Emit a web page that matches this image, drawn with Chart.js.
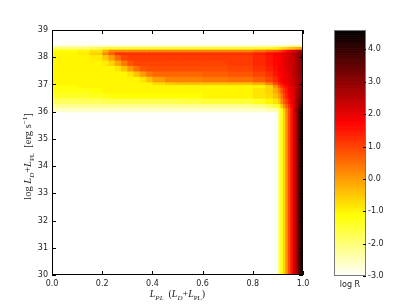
<!DOCTYPE html>
<html>
<head>
<meta charset="utf-8">
<script src="https://cdn.jsdelivr.net/npm/chart.js@4.4.0/dist/chart.umd.min.js"></script>
<style>
  html, body { margin: 0; padding: 0; background: #fff; }
  #wrap { position: relative; width: 407px; height: 307px; }
  #main { position: absolute; left: 0; top: 0; }
  #cbar { position: absolute; left: 320px; top: 0; }
</style>
</head>
<body>
<div id="wrap">
  <canvas id="main" width="407" height="307"></canvas>
  <canvas id="cbar" width="87" height="307"></canvas>
</div>
<script>
// grid cell edges (x = L_PL fraction, y = log luminosity)
const xEdges = [0, 0.1, 0.15, 0.2, 0.225, 0.25, 0.275, 0.3, 0.325, 0.35, 0.375, 0.4, 0.45, 0.5,
                0.6, 0.7, 0.8, 0.85, 0.88, 0.9,
                0.91, 0.92, 0.93, 0.94, 0.95, 0.96, 0.97, 0.98, 0.99, 1.0];
const yEdges = [30, 36.0, 36.15, 36.3, 36.5, 36.7, 36.9, 37.0, 37.1, 37.3, 37.5, 37.7,
                37.9, 38.1, 38.2, 38.3, 38.4, 38.45];

// log R per row (bottom to top), one value per x cell; null = no value (white)
const row_30_00 = [null, null, null, null, null, null, null, null, null, null, null, null, null, null, null, null, null, null, null,
                   -2.0, -1.2, -0.6, 0.2, 0.9, 1.6, 2.2, 2.9, 3.6, 4.3];
const row_36_00 = [-2.6, -2.6, -2.6, -2.6, -2.6, -2.6, -2.6, -2.6, -2.6, -2.6, -2.6, -2.6, -2.6, -2.6, -2.6, -2.6, -2.6, -2.5, -2.4,
                   -2.0, -1.2, -0.5, 0.3, 0.9, 1.6, 2.2, 2.9, 3.6, 4.3];
const row_36_15 = [-2.2, -2.2, -2.2, -2.2, -2.2, -2.2, -2.2, -2.2, -2.2, -2.2, -2.2, -2.2, -2.2, -2.2, -2.2, -2.2, -2.1, -1.8, -1.5,
                   -1.3, -0.5, 0.2, 0.7, 1.2, 1.7, 2.2, 2.7, 3.3, 3.9];
const row_36_30 = [-1.8, -1.8, -1.8, -1.7, -1.7, -1.7, -1.7, -1.7, -1.7, -1.7, -1.7, -1.7, -1.7, -1.6, -1.5, -1.5, -1.3, -1.0, -0.8,
                   -0.5, 0.2, 0.7, 1.1, 1.5, 1.9, 2.3, 2.7, 3.2, 3.7];
const row_36_50 = [-1.4, -1.4, -1.3, -1.2, -1.2, -1.1, -1.1, -1.1, -1.1, -1.1, -1.1, -1.1, -1.1, -1.1, -1.0, -1.0, -0.8, -0.7, -0.4,
                   0.0, 0.5, 1.0, 1.4, 1.7, 2.0, 2.3, 2.6, 3.0, 3.4];
const row_36_70 = [-1.2, -1.2, -1.1, -1.0, -1.0, -1.0, -1.0, -1.0, -1.0, -1.0, -1.0, -1.0, -1.0, -1.0, -1.0, -1.0, -0.8, -0.6, -0.2,
                   0.3, 0.8, 1.2, 1.5, 1.8, 2.0, 2.3, 2.6, 2.9, 3.3];
const row_36_90 = [-1.1, -1.0, -1.0, -1.0, -1.0, -1.0, -1.0, -1.0, -1.0, -1.0, -1.0, -1.0, -1.0, -1.0, -1.0, -1.0, -1.0, -0.6, 0.2,
                   0.8, 1.2, 1.5, 1.7, 1.9, 2.1, 2.3, 2.6, 2.9, 3.2];
const row_37_00 = [-1.0, -1.0, -1.0, -1.0, -1.0, -1.0, -1.0, -1.0, -1.0, -1.0, -1.0, -0.7, -0.5, -0.4, -0.4, -0.4, -0.2, 0.3, 0.9,
                   1.3, 1.6, 1.8, 1.9, 2.0, 2.2, 2.4, 2.6, 2.8, 3.0];
const row_37_10 = [-1.0, -1.0, -1.0, -1.0, -1.0, -1.0, -1.0, -1.0, -1.0, -0.8, -0.4, 0.0, 0.3, 0.3, 0.4, 0.5, 0.7, 1.0, 1.3,
                   1.6, 1.8, 1.9, 2.0, 2.1, 2.2, 2.4, 2.6, 2.8, 3.0];
const row_37_30 = [-1.0, -1.0, -1.0, -1.0, -1.0, -1.0, -1.0, -0.8, -0.4, 0.0, 0.4, 0.6, 0.6, 0.6, 0.7, 0.8, 1.0, 1.2, 1.5,
                   1.7, 1.8, 1.9, 2.0, 2.1, 2.3, 2.5, 2.7, 2.9, 3.1];
const row_37_50 = [-1.0, -1.0, -1.0, -1.0, -1.0, -0.8, -0.4, 0.1, 0.5, 0.8, 0.9, 0.9, 0.9, 0.9, 0.9, 1.0, 1.2, 1.4, 1.6,
                   1.8, 1.9, 2.0, 2.1, 2.2, 2.3, 2.5, 2.7, 2.9, 3.1];
const row_37_70 = [-1.0, -1.0, -1.0, -0.9, -0.6, -0.1, 0.4, 0.8, 1.0, 1.0, 1.0, 1.0, 1.0, 1.0, 1.0, 1.1, 1.3, 1.5, 1.7,
                   1.8, 1.9, 2.0, 2.1, 2.2, 2.3, 2.5, 2.7, 2.9, 3.1];
const row_37_90 = [-1.0, -1.0, -0.9, -0.5, 0.0, 0.6, 1.0, 1.1, 1.1, 1.1, 1.1, 1.1, 1.1, 1.1, 1.1, 1.1, 1.3, 1.5, 1.7,
                   1.8, 1.9, 2.0, 2.1, 2.2, 2.3, 2.5, 2.7, 2.9, 3.1];
const row_38_10 = [-1.0, -0.9, -0.6, 0.2, 0.7, 1.2, 1.2, 1.2, 1.2, 1.2, 1.2, 1.2, 1.2, 1.2, 1.2, 1.2, 1.4, 1.6, 1.8,
                   1.9, 2.0, 2.1, 2.2, 2.3, 2.4, 2.6, 2.8, 3.0, 3.2];
const row_38_20 = [-1.1, -1.0, -0.8, -0.3, 0.3, 0.3, 0.3, 0.3, 0.3, 0.3, 0.3, 0.3, 0.3, 0.3, 0.3, 0.3, 0.5, 0.7, 0.9,
                   1.0, 1.2, 1.4, 1.6, 1.8, 2.0, 2.2, 2.4, 2.6, 2.8];
const row_38_30 = [-1.9, -1.9, -1.7, -1.4, -1.4, -1.4, -1.4, -1.4, -1.4, -1.4, -1.4, -1.4, -1.4, -1.4, -1.4, -1.4, -1.3, -1.2, -1.1,
                   -0.9, -0.8, -0.7, -0.6, -0.5, -0.4, -0.3, -0.2, -0.1, 0.0];
const row_38_40 = [-2.6, -2.6, -2.6, -2.6, -2.6, -2.6, -2.6, -2.6, -2.6, -2.6, -2.6, -2.6, -2.6, -2.6, -2.6, -2.6, -2.6, -2.6, -2.5,
                   -2.5, -2.4, -2.4, -2.3, -2.3, -2.3, -2.2, -2.2, -2.1, -2.1];

const rows = [row_30_00, row_36_00, row_36_15, row_36_30, row_36_50, row_36_70, row_36_90,
              row_37_00, row_37_10, row_37_30, row_37_50, row_37_70, row_37_90, row_38_10,
              row_38_20, row_38_30, row_38_40];

// tick labels
const xTicks = [0.0, 0.2, 0.4, 0.6, 0.8, 1.0];
const yTicks = [30, 31, 32, 33, 34, 35, 36, 37, 38, 39];
const cbTicks = [-3, -2, -1, 0, 1, 2, 3, 4];
const vMin = -3.0, vMax = 4.6;

// matplotlib 'hot_r'
function hotR(v) {
  let t = 1 - (v - vMin) / (vMax - vMin);
  t = Math.max(0, Math.min(1, t));
  const c = x => Math.round(255 * Math.max(0, Math.min(1, x)));
  return 'rgb(' + c(8 / 3 * t) + ',' + c(8 / 3 * t - 1) + ',' + c(4 * t - 3) + ')';
}

// text with sub/superscripts
function segFont(s, size) {
  const sz = (s.sub || s.sup) ? Math.round(size * 0.7) : size;
  return (s.it ? 'italic ' : '') + sz + 'px "Liberation Serif", "DejaVu Serif", serif';
}
function richWidth(ctx, segs, size) {
  let w = 0;
  segs.forEach(s => { ctx.font = segFont(s, size); w += ctx.measureText(s.t).width; });
  return w;
}
function drawRich(ctx, segs, cx, cy, size) {
  let x = cx - richWidth(ctx, segs, size) / 2;
  ctx.textBaseline = 'alphabetic';
  ctx.textAlign = 'left';
  segs.forEach(s => {
    ctx.font = segFont(s, size);
    const dy = s.sub ? size * 0.25 : (s.sup ? -size * 0.4 : 0);
    ctx.fillText(s.t, x, cy + dy);
    x += ctx.measureText(s.t).width;
  });
}

const xTitle = [
  { t: 'L', it: true }, { t: 'PL', it: true, sub: true }, { t: '  (' },
  { t: 'L', it: true }, { t: 'D', it: true, sub: true }, { t: '+' },
  { t: 'L', it: true }, { t: 'PL', sub: true }, { t: ')' }
];
const yTitle = [
  { t: 'log ' }, { t: 'L', it: true }, { t: 'D', it: true, sub: true }, { t: '+' },
  { t: 'L', it: true }, { t: 'PL', sub: true }, { t: '  [erg s' }, { t: '\u22121', sup: true }, { t: ']' }
];

const contourPlugin = {
  id: 'contour',
  afterDraw(chart) {
    const ctx = chart.ctx, a = chart.chartArea;
    const xs = chart.scales.x, ys = chart.scales.y;
    ctx.save();
    ctx.beginPath();
    ctx.rect(a.left, a.top, a.right - a.left, a.bottom - a.top);
    ctx.clip();
    rows.forEach((row, r) => {
      const yTop = ys.getPixelForValue(yEdges[r + 1]);
      const yBot = ys.getPixelForValue(yEdges[r]);
      row.forEach((v, c) => {
        if (v === null) return;
        const x0 = xs.getPixelForValue(xEdges[c]);
        const x1 = xs.getPixelForValue(xEdges[c + 1]);
        ctx.fillStyle = hotR(v);
        ctx.fillRect(x0, yTop, x1 - x0 + 0.6, yBot - yTop + 0.6);
      });
    });
    ctx.restore();

    // frame and inward ticks
    ctx.save();
    ctx.strokeStyle = '#000';
    ctx.lineWidth = 1;
    ctx.strokeRect(a.left + 0.5, a.top + 0.5, a.right - a.left - 1, a.bottom - a.top - 1);
    ctx.beginPath();
    xTicks.forEach(v => {
      const px = Math.round(xs.getPixelForValue(v)) + 0.5;
      ctx.moveTo(px, a.bottom); ctx.lineTo(px, a.bottom - 4);
      ctx.moveTo(px, a.top); ctx.lineTo(px, a.top + 4);
    });
    yTicks.forEach(v => {
      const py = Math.round(ys.getPixelForValue(v)) + 0.5;
      ctx.moveTo(a.left, py); ctx.lineTo(a.left + 4, py);
      ctx.moveTo(a.right, py); ctx.lineTo(a.right - 4, py);
    });
    ctx.stroke();

    // axis titles
    ctx.fillStyle = '#222';
    drawRich(ctx, xTitle, (a.left + a.right) / 2, 297, 10);
    ctx.translate(31, (a.top + a.bottom) / 2 + 4);
    ctx.rotate(-Math.PI / 2);
    drawRich(ctx, yTitle, 0, 0, 10.5);
    ctx.restore();
  }
};

const tickFont = { family: '"DejaVu Sans", sans-serif', size: 8 };
const noGrid = { display: false, drawTicks: false, tickLength: 0 };

new Chart(document.getElementById('main'), {
  type: 'scatter',
  data: { datasets: [] },
  options: {
    responsive: false,
    animation: false,
    devicePixelRatio: 1,
    layout: { padding: { left: 0, top: 30, right: 104, bottom: 0 } },
    plugins: { legend: { display: false }, tooltip: { enabled: false } },
    scales: {
      x: {
        type: 'linear', min: 0, max: 1,
        afterBuildTicks: s => { s.ticks = xTicks.map(v => ({ value: v })); },
        afterFit: s => { s.height = 32; },
        grid: noGrid, border: { display: false },
        ticks: { font: tickFont, color: '#222', padding: 4, maxRotation: 0,
                 callback: v => Number(v).toFixed(1) }
      },
      y: {
        type: 'linear', min: 30, max: 39,
        afterBuildTicks: s => { s.ticks = yTicks.map(v => ({ value: v })); },
        afterFit: s => { s.width = 52; },
        grid: noGrid, border: { display: false },
        ticks: { font: tickFont, color: '#222', padding: 4, callback: v => String(v) }
      }
    }
  },
  plugins: [contourPlugin]
});

const colorbarPlugin = {
  id: 'colorbar',
  afterDraw(chart) {
    const ctx = chart.ctx, a = chart.chartArea, ys = chart.scales.y;
    ctx.save();
    for (let v = vMin; v < vMax; v += 0.02) {
      const y0 = ys.getPixelForValue(Math.min(v + 0.02, vMax));
      const y1 = ys.getPixelForValue(v);
      ctx.fillStyle = hotR(v + 0.01);
      ctx.fillRect(a.left, y0, a.right - a.left, y1 - y0 + 0.6);
    }
    ctx.strokeStyle = '#777';
    ctx.lineWidth = 1;
    ctx.strokeRect(a.left + 0.5, a.top + 0.5, a.right - a.left - 1, a.bottom - a.top - 1);
    ctx.strokeStyle = '#000';
    ctx.beginPath();
    cbTicks.forEach(v => {
      const py = Math.round(ys.getPixelForValue(v)) + 0.5;
      ctx.moveTo(a.right, py); ctx.lineTo(a.right - 3, py);
    });
    ctx.stroke();
    ctx.fillStyle = '#222';
    ctx.font = '8px "DejaVu Sans", sans-serif';
    ctx.textAlign = 'center';
    ctx.textBaseline = 'middle';
    ctx.fillText('log R', (a.left + a.right) / 2, a.bottom + 9);
    ctx.restore();
  }
};

new Chart(document.getElementById('cbar'), {
  type: 'scatter',
  data: { datasets: [] },
  options: {
    responsive: false,
    animation: false,
    devicePixelRatio: 1,
    layout: { padding: { left: 14, top: 30, right: 0, bottom: 31 } },
    plugins: { legend: { display: false }, tooltip: { enabled: false } },
    scales: {
      x: { type: 'linear', min: 0, max: 1, display: false },
      y: {
        type: 'linear', position: 'right', min: vMin, max: vMax,
        afterBuildTicks: s => { s.ticks = cbTicks.map(v => ({ value: v })); },
        afterFit: s => { s.width = 41; },
        grid: noGrid, border: { display: false },
        ticks: { font: tickFont, color: '#222', padding: 2,
                 callback: v => Number(v).toFixed(1) }
      }
    }
  },
  plugins: [colorbarPlugin]
});
</script>
</body>
</html>
